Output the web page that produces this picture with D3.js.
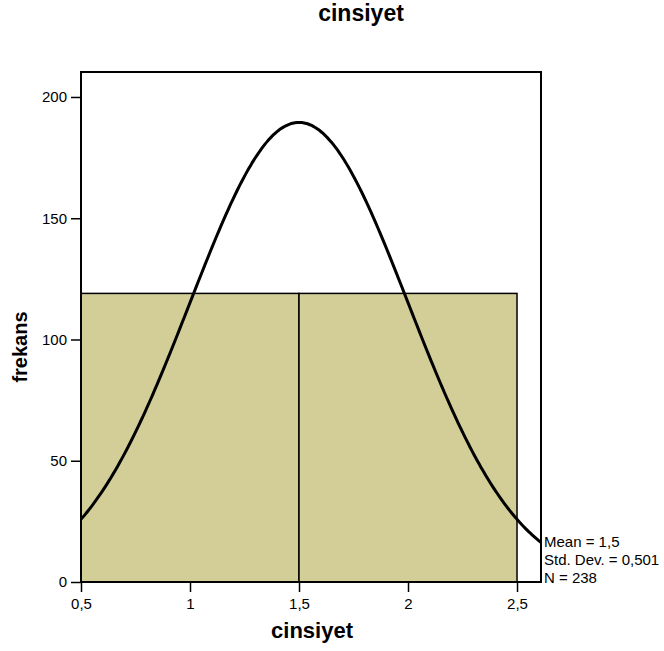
<!DOCTYPE html>
<html>
<head>
<meta charset="utf-8">
<script src="https://cdn.jsdelivr.net/npm/d3@7"></script>
<style>
  html, body { margin: 0; padding: 0; background: #fff; }
  svg { display: block; font-family: "Liberation Sans", Arial, sans-serif; }
</style>
</head>
<body>
<svg id="chart" width="664" height="651"></svg>
<script>
// Histogram bins for "cinsiyet" and their frequencies
const binEdges = [0.5, 1.5, 2.5];
const binCounts = [119, 119];

// Summary statistics shown beside the plot (also define the fitted normal curve)
const statMean = 1.5;
const statStdDev = 0.501;
const statN = 238;

// Axis ticks
const xTicks = [0.5, 1, 1.5, 2, 2.5];
const yTicks = [0, 50, 100, 150, 200];

const chartTitle = "cinsiyet";
const xTitle = "cinsiyet";
const yTitle = "frekans";

const locale = d3.formatLocale({ decimal: ",", thousands: ".", grouping: [3], currency: ["", ""] });
const fmt = locale.format("~g");

const svg = d3.select("#chart");
const plot = { left: 81, top: 72, right: 541, bottom: 582 };

const x = d3.scaleLinear().domain([0.5, 2.61]).range([plot.left, plot.right]);
const y = d3.scaleLinear().domain([0, 210.3]).range([plot.bottom, plot.top]);

// plot background
svg.append("rect")
  .attr("x", plot.left).attr("y", plot.top)
  .attr("width", plot.right - plot.left).attr("height", plot.bottom - plot.top)
  .attr("fill", "#fff");

// histogram bars
const bins = binCounts.map((c, i) => ({ x0: binEdges[i], x1: binEdges[i + 1], count: c }));
svg.append("g").selectAll("rect").data(bins).join("rect")
  .attr("x", d => x(d.x0))
  .attr("y", d => y(d.count))
  .attr("width", d => x(d.x1) - x(d.x0))
  .attr("height", d => y(0) - y(d.count))
  .attr("fill", "#d3ce98")
  .attr("stroke", "#000")
  .attr("stroke-width", 1.5);

// fitted normal curve: N * binWidth * pdf(x)
const binWidth = binEdges[1] - binEdges[0];
const [xd0, xd1] = x.domain();
const curvePts = d3.range(0, 201).map(i => {
  const xv = xd0 + (xd1 - xd0) * i / 200;
  const z = (xv - statMean) / statStdDev;
  return [xv, statN * binWidth * Math.exp(-0.5 * z * z) / (statStdDev * Math.sqrt(2 * Math.PI))];
});
svg.append("path")
  .datum(curvePts)
  .attr("fill", "none")
  .attr("stroke", "#000")
  .attr("stroke-width", 3)
  .attr("stroke-linejoin", "round")
  .attr("d", d3.line().x(d => x(d[0])).y(d => y(d[1])).curve(d3.curveBasis));

// plot frame
svg.append("rect")
  .attr("x", plot.left).attr("y", plot.top)
  .attr("width", plot.right - plot.left).attr("height", plot.bottom - plot.top)
  .attr("fill", "none").attr("stroke", "#000").attr("stroke-width", 2);

// axes
const yAxis = svg.append("g")
  .attr("transform", `translate(${plot.left},0)`)
  .call(d3.axisLeft(y).tickValues(yTicks).tickSize(10).tickPadding(4).tickFormat(fmt));
const xAxis = svg.append("g")
  .attr("transform", `translate(0,${plot.bottom})`)
  .call(d3.axisBottom(x).tickValues(xTicks).tickSize(10).tickPadding(6).tickFormat(fmt));
[xAxis, yAxis].forEach(g => {
  g.select(".domain").remove();
  g.selectAll(".tick line").attr("stroke", "#000").attr("stroke-width", 1.5);
  g.selectAll(".tick text")
    .attr("fill", "#000")
    .style("font-family", "'Liberation Sans', Arial, sans-serif")
    .style("font-size", "15px");
});

// titles
svg.append("text")
  .attr("x", 361).attr("y", 21)
  .attr("text-anchor", "middle")
  .style("font-weight", "bold").style("font-size", "23px")
  .text(chartTitle);
svg.append("text")
  .attr("x", 312).attr("y", 638)
  .attr("text-anchor", "middle")
  .style("font-weight", "bold").style("font-size", "22px")
  .text(xTitle);
svg.append("text")
  .attr("transform", "translate(27,347) rotate(-90)")
  .attr("text-anchor", "middle")
  .style("font-weight", "bold").style("font-size", "20px")
  .text(yTitle);

// statistics block
const statLines = [
  `Mean = ${fmt(statMean)}`,
  `Std. Dev. = ${fmt(statStdDev)}`,
  `N = ${statN}`
];
svg.append("g").selectAll("text").data(statLines).join("text")
  .attr("x", 544)
  .attr("y", (d, i) => 547 + i * 18)
  .style("font-size", "15px")
  .text(d => d);
</script>
</body>
</html>
